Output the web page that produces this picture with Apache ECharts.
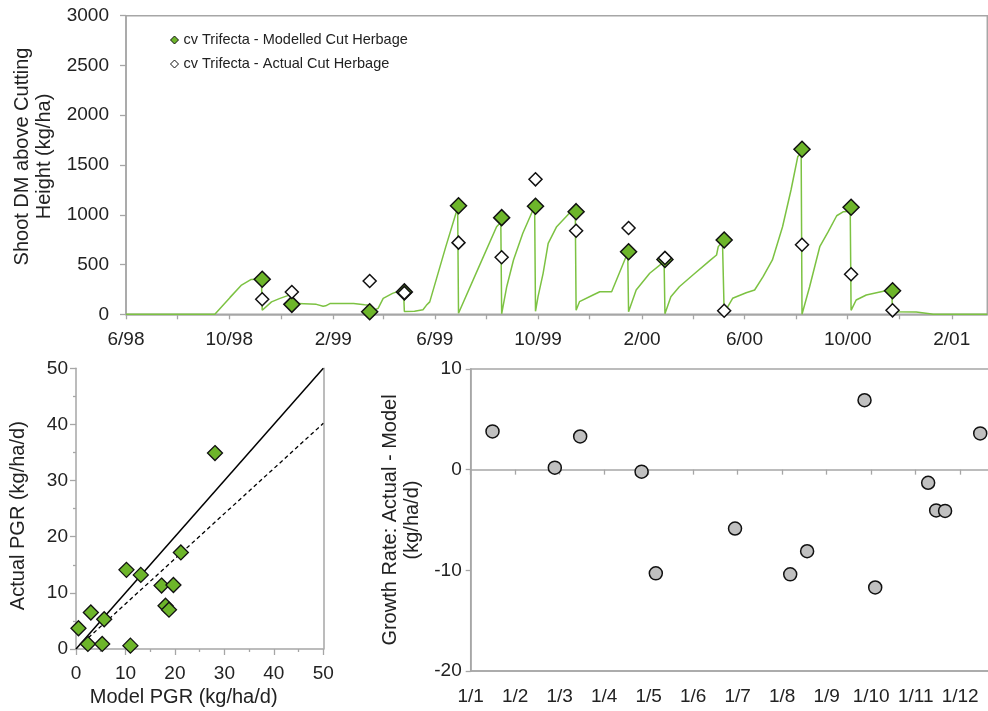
<!DOCTYPE html>
<html>
<head>
<meta charset="utf-8">
<script src="https://cdn.jsdelivr.net/npm/echarts@6/dist/echarts.min.js"></script>
<style>
  html, body { margin: 0; padding: 0; background: #ffffff; }
  #chart { width: 988px; height: 711px; }
</style>
</head>
<body>
<div id="chart"></div>
<script>
// ---- Harvests: modelled vs actual cut herbage (kg DM/ha) ----
const harvestDates = ['1998-11-09', '1998-12-14', '1999-03-16', '1999-04-26', '1999-06-29', '1999-08-19', '1999-09-28',
                      '1999-11-15', '2000-01-16', '2000-02-28', '2000-05-08', '2000-08-08', '2000-10-05', '2000-11-23'];
const modelledCut = [352, 100, 26, 225, 1091, 971, 1085, 1031, 629, 550, 747, 1658, 1075, 237];
const actualCut   = [151, 224, 335, 215, 720, 573, 1356, 840, 867, 565, 36, 699, 402, 40];

// ---- Modelled shoot DM above cutting height through the trial ----
const growthDates = [
  '1998-06-01', '1998-09-14', '1998-10-02', '1998-10-15', '1998-10-27', '1998-11-08', '1998-11-09',
  '1998-11-20', '1998-11-30', '1998-12-10', '1998-12-13', '1998-12-14',
  '1999-01-12', '1999-01-20', '1999-01-23', '1999-01-28', '1999-02-25', '1999-03-10', '1999-03-15', '1999-03-16',
  '1999-03-26', '1999-04-01', '1999-04-12', '1999-04-22', '1999-04-25', '1999-04-26',
  '1999-05-08', '1999-05-18', '1999-05-22', '1999-05-26', '1999-06-14', '1999-06-26', '1999-06-28', '1999-06-29',
  '1999-07-24', '1999-08-13', '1999-08-18', '1999-08-19',
  '1999-08-25', '1999-09-02', '1999-09-13', '1999-09-25', '1999-09-27', '1999-09-28',
  '1999-10-01', '1999-10-07', '1999-10-13', '1999-10-23', '1999-11-07', '1999-11-14', '1999-11-15',
  '1999-11-19', '1999-12-05', '1999-12-13', '1999-12-27', '2000-01-13', '2000-01-15', '2000-01-16',
  '2000-01-25', '2000-02-10', '2000-02-27', '2000-02-28',
  '2000-03-06', '2000-03-16', '2000-04-01', '2000-04-21', '2000-04-29', '2000-05-01', '2000-05-06', '2000-05-08',
  '2000-05-18', '2000-06-03', '2000-06-13', '2000-06-23', '2000-07-04', '2000-07-16', '2000-07-26', '2000-08-03',
  '2000-08-07', '2000-08-08',
  '2000-08-17', '2000-08-25', '2000-08-29', '2000-09-08', '2000-09-18', '2000-09-26', '2000-10-04', '2000-10-05',
  '2000-10-11', '2000-10-23', '2000-11-04', '2000-11-19', '2000-11-22', '2000-11-23',
  '2000-12-21', '2000-12-22', '2000-12-23', '2001-01-06', '2001-01-10', '2001-03-15'
];
const growthValues = [
  0, 0, 170, 290, 350, 355, 40,
  125, 160, 190, 195, 112,
  100, 80, 85, 108, 108, 95, 92, 25,
  60, 160, 210, 240, 245, 28,
  30, 45, 90, 125, 680, 1015, 1060, 10,
  494, 880, 925, 5,
  277, 546, 814, 1048, 1070, 30,
  177, 412, 713, 880, 1015, 1045, 40,
  127, 194, 227, 227, 579, 625, 26,
  244, 412, 530, 5,
  177, 277, 395, 539, 596, 680, 730, 15,
  161, 217, 244, 378, 546, 880, 1249, 1584,
  1620, 0,
  277, 546, 679, 830, 990, 1031, 1035, 40,
  144, 194, 217, 244, 245, 26,
  22, 30, 20, 5, 0, 0
];

// Date axis of the upper panel
const timeAxisStart = '1998-06-01';
const timeAxisEnd = '2001-03-15';
const timeAxisLabels = ['6/98', '10/98', '2/99', '6/99', '10/99', '2/00', '6/00', '10/00', '2/01'];

// ---- Pasture growth rate: model vs actual (kg/ha/d) ----
const modelPGR  = [0.5, 3.0, 2.4, 5.7, 5.3, 11.0, 10.2, 13.1, 17.3, 19.7, 18.1, 18.8, 21.2, 28.1];
const actualPGR = [3.7, 6.5, 0.9, 5.3, 0.9, 0.6, 14.1, 13.2, 11.3, 11.4, 7.7, 7.0, 17.2, 34.9];
const oneToOneX = [0, 50];
const oneToOneY = [0, 50];
const fitLineX = [2.5, 50];
const fitLineY = [2.0, 40.2];

// ---- Growth rate residual (actual - model) by time of year ----
const monthLabels = ['1/1', '1/2', '1/3', '1/4', '1/5', '1/6', '1/7', '1/8', '1/9', '1/10', '1/11', '1/12'];
const residualMonth = [0.49, 1.89, 2.46, 3.84, 4.16, 5.94, 7.18, 7.56, 8.85, 9.09, 10.28, 10.46, 10.66, 11.45];
const residualValue = [3.8, 0.2, 3.3, -0.2, -10.3, -5.85, -10.4, -8.1, 6.9, -11.7, -1.3, -4.05, -4.1, 3.6];

// ---- helpers ----
function ts(s) {
  const p = s.split('-').map(Number);
  return Date.UTC(p[0], p[1] - 1, p[2]);
}
function labelToTs(lbl) {
  const p = lbl.split('/').map(Number);
  const year = p[1] < 50 ? 2000 + p[1] : 1900 + p[1];
  return Date.UTC(year, p[0] - 1, 1);
}
const axisMin = ts(timeAxisStart);
const axisMax = ts(timeAxisEnd);
const labelTicks = timeAxisLabels.map(labelToTs);
const minorTicks = [];
for (let i = 0; ; i++) {
  const t = Date.UTC(1998, 5 + 2 * i, 1);
  if (t > axisMax) break;
  minorTicks.push(t);
}
function fmtMonthYear(v) {
  const d = new Date(v);
  return (d.getUTCMonth() + 1) + '/' + String(d.getUTCFullYear()).slice(2);
}

const FONT = "'Liberation Sans', Arial, sans-serif";
const TXT = '#222222';
const AX = '#a6a6a6';
const GREEN = '#6db52a';
const LINE_GREEN = '#7cc242';
const axisLine = { show: true, onZero: false, lineStyle: { color: AX, width: 1.5 } };
const tickStyle = { color: AX, width: 1.3 };
const lblStyle = { fontSize: 19, color: TXT, fontFamily: FONT };
const nameStyle = { fontSize: 20, color: TXT, fontFamily: FONT };
const plain = v => String(v);

const chart = echarts.init(document.getElementById('chart'), null, { renderer: 'canvas' });

chart.setOption({
  animation: false,
  backgroundColor: '#ffffff',
  textStyle: { fontFamily: FONT },
  grid: [
    { left: 126, top: 15.7, width: 861.3, height: 298.6, outerBoundsMode: 'none',
      show: true, borderColor: AX, borderWidth: 1.5, backgroundColor: 'transparent' },
    { left: 76, top: 368.3, width: 247.3, height: 280.7, outerBoundsMode: 'none' },
    { left: 470.7, top: 369, width: 534, height: 302, outerBoundsMode: 'none',
      show: true, borderColor: AX, borderWidth: 1.5, backgroundColor: 'transparent' }
  ],
  legend: {
    data: ['cv Trifecta - Modelled Cut Herbage', 'cv Trifecta - Actual Cut Herbage'],
    orient: 'vertical',
    left: 170,
    top: 32,
    padding: 0,
    itemWidth: 8,
    itemHeight: 8,
    itemGap: 8,
    itemStyle: { borderWidth: 1 },
    textStyle: { fontSize: 14.5, color: TXT, fontFamily: FONT, lineHeight: 16 }
  },
  xAxis: [
    {
      gridIndex: 0, type: 'value', min: axisMin, max: axisMax,
      axisLine: axisLine,
      axisTick: { show: true, customValues: minorTicks, length: 5, lineStyle: tickStyle },
      axisLabel: { customValues: labelTicks, formatter: fmtMonthYear, margin: 16, ...lblStyle },
      splitLine: { show: false }
    },
    {
      gridIndex: 1, type: 'value', min: 0, max: 50, interval: 10,
      axisLine: axisLine,
      axisTick: { show: true, length: 6, lineStyle: tickStyle },
      minorTick: { show: true, splitNumber: 2, length: 3, lineStyle: tickStyle },
      axisLabel: { margin: 15, formatter: plain, ...lblStyle },
      splitLine: { show: false },
      name: 'Model PGR (kg/ha/d)', nameLocation: 'middle', nameGap: 38,
      nameTextStyle: { ...nameStyle, padding: [0, 32, 0, 0] }
    },
    {
      gridIndex: 2, type: 'value', min: 0, max: 12, interval: 1, position: 'bottom',
      axisLine: axisLine,
      axisTick: { show: false },
      axisLabel: { margin: 16, formatter: v => monthLabels[v] || '', ...lblStyle },
      splitLine: { show: false }
    },
    {
      gridIndex: 2, type: 'value', min: 0, max: 12, interval: 1, position: 'top',
      axisLine: { show: true, onZero: true, lineStyle: { color: AX, width: 1.5 } },
      axisTick: { show: true, inside: true, length: 5, lineStyle: tickStyle },
      axisLabel: { show: false },
      splitLine: { show: false }
    }
  ],
  yAxis: [
    {
      gridIndex: 0, type: 'value', min: 0, max: 3000, interval: 500,
      axisLine: axisLine,
      axisTick: { show: true, length: 6, lineStyle: tickStyle },
      axisLabel: { margin: 17, formatter: plain, ...lblStyle },
      splitLine: { show: false },
      name: 'Shoot DM above Cutting\nHeight (kg/ha)', nameLocation: 'middle', nameGap: 57,
      nameTextStyle: { ...nameStyle, lineHeight: 22, padding: [0, 0, 0, 17] }
    },
    {
      gridIndex: 1, type: 'value', min: 0, max: 50, interval: 10,
      axisLine: axisLine,
      axisTick: { show: true, length: 6, lineStyle: tickStyle },
      minorTick: { show: true, splitNumber: 2, length: 3, lineStyle: tickStyle },
      axisLabel: { margin: 8, formatter: plain, ...lblStyle },
      splitLine: { show: false },
      name: 'Actual PGR (kg/ha/d)', nameLocation: 'middle', nameGap: 48,
      nameTextStyle: { ...nameStyle, padding: [0, 14, 0, 0] }
    },
    {
      gridIndex: 1, type: 'value', min: 0, max: 50, position: 'right',
      axisLine: axisLine,
      axisTick: { show: false },
      axisLabel: { show: false },
      splitLine: { show: false }
    },
    {
      gridIndex: 2, type: 'value', min: -20, max: 10, interval: 10,
      axisLine: axisLine,
      axisTick: { show: true, length: 5, lineStyle: tickStyle },
      axisLabel: { margin: 9, formatter: plain, ...lblStyle },
      splitLine: { show: false },
      name: 'Growth Rate: Actual - Model\n(kg/ha/d)', nameLocation: 'middle', nameGap: 36,
      nameTextStyle: { ...nameStyle, lineHeight: 22 }
    }
  ],
  series: [
    {
      type: 'line', xAxisIndex: 0, yAxisIndex: 0, z: 2,
      data: growthDates.map((d, i) => [ts(d), growthValues[i]]),
      showSymbol: false, symbol: 'none',
      lineStyle: { color: LINE_GREEN, width: 1.5 }
    },
    {
      name: 'cv Trifecta - Modelled Cut Herbage',
      type: 'scatter', xAxisIndex: 0, yAxisIndex: 0, z: 3,
      symbol: 'diamond', symbolSize: 16,
      data: harvestDates.map((d, i) => [ts(d), modelledCut[i]]),
      itemStyle: { color: GREEN, borderColor: '#111111', borderWidth: 1.5, opacity: 1 }
    },
    {
      name: 'cv Trifecta - Actual Cut Herbage',
      type: 'scatter', xAxisIndex: 0, yAxisIndex: 0, z: 4,
      symbol: 'diamond', symbolSize: 13,
      data: harvestDates.map((d, i) => [ts(d), actualCut[i]]),
      itemStyle: { color: '#ffffff', borderColor: '#111111', borderWidth: 1.5, opacity: 1 }
    },
    {
      type: 'line', xAxisIndex: 1, yAxisIndex: 1, z: 2,
      data: oneToOneX.map((x, i) => [x, oneToOneY[i]]),
      showSymbol: false, symbol: 'none',
      lineStyle: { color: '#000000', width: 1.5 }
    },
    {
      type: 'line', xAxisIndex: 1, yAxisIndex: 1, z: 2,
      data: fitLineX.map((x, i) => [x, fitLineY[i]]),
      showSymbol: false, symbol: 'none',
      lineStyle: { color: '#000000', width: 1.3, type: [4, 3] }
    },
    {
      type: 'scatter', xAxisIndex: 1, yAxisIndex: 1, z: 3,
      symbol: 'diamond', symbolSize: 15,
      data: modelPGR.map((x, i) => [x, actualPGR[i]]),
      itemStyle: { color: GREEN, borderColor: '#111111', borderWidth: 1.3, opacity: 1 }
    },
    {
      type: 'scatter', xAxisIndex: 2, yAxisIndex: 3, z: 3,
      symbol: 'circle', symbolSize: 13,
      data: residualMonth.map((x, i) => [x, residualValue[i]]),
      itemStyle: { color: '#c0c0c0', borderColor: '#111111', borderWidth: 1.5, opacity: 1 }
    }
  ]
});
</script>
</body>
</html>
